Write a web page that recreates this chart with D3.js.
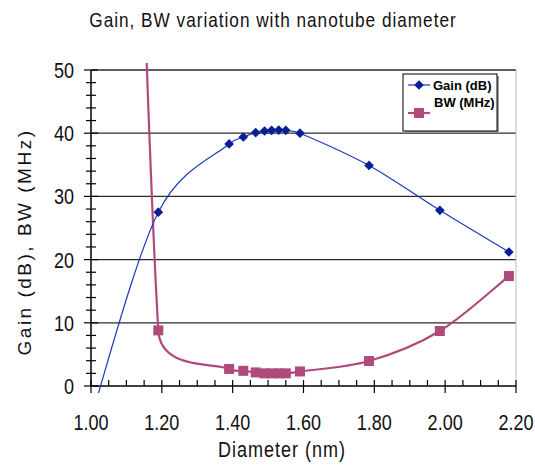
<!DOCTYPE html>
<html>
<head>
<meta charset="utf-8">
<script src="https://cdn.jsdelivr.net/npm/d3@7"></script>
<style>
  body { margin: 0; background: #fff; }
  text { font-family: "Liberation Sans", Arial, sans-serif; fill: #111; }
</style>
</head>
<body>
<script>
var width = 535;
var height = 465;

// nanotube diameter (nm); first point lies off the chart, only the curves reach it
var diameter = [1.00, 1.19, 1.39, 1.43, 1.465, 1.49, 1.51, 1.53, 1.55, 1.59, 1.785, 1.985, 2.18];
var gain = [-5, 27.5, 38.3, 39.4, 40.1, 40.35, 40.45, 40.5, 40.45, 40.0, 34.9, 27.8, 21.2];
var bw = [380, 8.8, 2.7, 2.4, 2.15, 2.0, 2.0, 2.0, 2.0, 2.3, 3.95, 8.7, 17.4];
var xTicks = [1.00, 1.20, 1.40, 1.60, 1.80, 2.00, 2.20];
var yTicks = [0, 10, 20, 30, 40, 50];

var pl = 91, pr = 516, pt = 70, pb = 386;

var x = d3.scaleLinear().domain([1.0, 2.2]).range([pl, pr]);
var y = d3.scaleLinear().domain([0, 50]).range([pb, pt]);

var svg = d3.select('body').append('svg')
  .attr('width', width)
  .attr('height', height);

// narrow text: squeeze a normal sans horizontally
var narrow = function(parent, tx, ty, str, size, anchor, spacing) {
  var t = parent.append('g')
    .attr('transform', 'translate(' + tx + ',' + ty + ') scale(0.82,1)')
    .append('text')
    .attr('text-anchor', anchor)
    .attr('font-size', size)
    .text(str);
  if (spacing) t.attr('letter-spacing', spacing);
  return t;
};

// spreadsheet-style smoothed line: bezier with (P[i+1]-P[i-1])/6 handles, capped at half the segment
var smooth = function(p) {
  var path = d3.path();
  var cap = function(vx, vy, max) {
    var len = Math.sqrt(vx * vx + vy * vy);
    if (len > max) { vx *= max / len; vy *= max / len; }
    return [vx, vy];
  };
  path.moveTo(p[0][0], p[0][1]);
  for (var i = 0; i < p.length - 1; i++) {
    var p0 = p[Math.max(i - 1, 0)], p1 = p[i], p2 = p[i + 1], p3 = p[Math.min(i + 2, p.length - 1)];
    var seg = Math.sqrt(Math.pow(p2[0] - p1[0], 2) + Math.pow(p2[1] - p1[1], 2));
    var a = cap((p2[0] - p0[0]) / 6, (p2[1] - p0[1]) / 6, seg / 2);
    var b = cap((p3[0] - p1[0]) / 6, (p3[1] - p1[1]) / 6, seg / 2);
    path.bezierCurveTo(p1[0] + a[0], p1[1] + a[1], p2[0] - b[0], p2[1] - b[1], p2[0], p2[1]);
  }
  return path.toString();
};

narrow(svg, 273, 27, 'Gain, BW variation with nanotube diameter', 21, 'middle', 1.2);

svg.append('defs').append('clipPath').attr('id', 'clip')
  .append('rect')
  .attr('x', pl - 6).attr('y', pt - 7)
  .attr('width', pr - pl + 6).attr('height', pb - pt + 14);

// gridlines
svg.append('g').selectAll('line')
  .data(yTicks.slice(1))
  .enter().append('line')
  .attr('x1', pl).attr('x2', pr)
  .attr('y1', function(d) { return y(d); })
  .attr('y2', function(d) { return y(d); })
  .attr('stroke', '#2a2a2a')
  .attr('stroke-width', 1.3);

svg.append('line')
  .attr('x1', pr).attr('x2', pr)
  .attr('y1', pt).attr('y2', pb)
  .attr('stroke', '#bbb');

// x axis
var xAxis = svg.append('g').attr('transform', 'translate(0,' + pb + ')');
xAxis.append('line').attr('x1', pl).attr('x2', pr).attr('stroke', '#000').attr('stroke-width', 1.5);
xAxis.selectAll('.minor')
  .data(d3.range(1.05, 2.2, 0.05).filter(function(d) { return Math.abs(d * 5 - Math.round(d * 5)) > 0.01; }))
  .enter().append('line')
  .attr('x1', function(d) { return x(d); }).attr('x2', function(d) { return x(d); })
  .attr('y1', -6).attr('y2', 0)
  .attr('stroke', '#000').attr('stroke-width', 1.2);
xAxis.selectAll('.major')
  .data(xTicks)
  .enter().append('line')
  .attr('x1', function(d) { return x(d); }).attr('x2', function(d) { return x(d); })
  .attr('y1', -6).attr('y2', 7)
  .attr('stroke', '#000').attr('stroke-width', 1.2);
xTicks.forEach(function(d) {
  narrow(xAxis, x(d), 44, d.toFixed(2), 22, 'middle');
});

narrow(svg, 282, 457, 'Diameter (nm)', 22, 'middle', 1.2);

// y axis
var yAxis = svg.append('g').attr('transform', 'translate(' + pl + ',0)');
yAxis.append('line').attr('y1', pt).attr('y2', pb).attr('stroke', '#000').attr('stroke-width', 1.5);
yAxis.selectAll('.minor')
  .data(d3.range(2, 50, 2).filter(function(d) { return d % 10 !== 0; }))
  .enter().append('line')
  .attr('x1', -5).attr('x2', 5)
  .attr('y1', function(d) { return y(d); }).attr('y2', function(d) { return y(d); })
  .attr('stroke', '#000').attr('stroke-width', 1.2);
yAxis.selectAll('.major')
  .data(yTicks)
  .enter().append('line')
  .attr('x1', -7).attr('x2', 7)
  .attr('y1', function(d) { return y(d); }).attr('y2', function(d) { return y(d); })
  .attr('stroke', '#000').attr('stroke-width', 1.2);
yTicks.forEach(function(d) {
  narrow(yAxis, -17, y(d) + 8, String(d), 22, 'end');
});

svg.append('text')
  .attr('transform', 'translate(31,242) rotate(-90)')
  .attr('text-anchor', 'middle')
  .attr('font-size', 19)
  .attr('letter-spacing', 2.5)
  .text('Gain (dB), BW (MHz)');

// series
var gainPts = diameter.map(function(d, i) { return [x(d), y(gain[i])]; });
var bwPts = diameter.map(function(d, i) { return [x(d), y(bw[i])]; });
var shown = d3.range(diameter.length).filter(function(i) { return gain[i] >= 0 && bw[i] <= 50; });

var plot = svg.append('g').attr('clip-path', 'url(#clip)');

plot.append('path')
  .attr('d', smooth(bwPts))
  .attr('fill', 'none')
  .attr('stroke', '#b04a7c')
  .attr('stroke-width', 2.2);

plot.append('path')
  .attr('d', smooth(gainPts))
  .attr('fill', 'none')
  .attr('stroke', '#1a3bb8')
  .attr('stroke-width', 1.2);

var diamond = d3.symbol().type(d3.symbolDiamond2).size(60);

plot.selectAll('.bwpt')
  .data(shown)
  .enter().append('rect')
  .attr('x', function(i) { return x(diameter[i]) - 5; })
  .attr('y', function(i) { return y(bw[i]) - 5; })
  .attr('width', 10).attr('height', 10)
  .attr('fill', '#b04a7c');

plot.selectAll('.gpt')
  .data(shown)
  .enter().append('path')
  .attr('transform', function(i) { return 'translate(' + x(diameter[i]) + ',' + y(gain[i]) + ')'; })
  .attr('d', diamond)
  .attr('fill', '#0a1f96');

// legend
var lg = svg.append('g');
lg.append('rect').attr('x', 405).attr('y', 76).attr('width', 94).attr('height', 57).attr('fill', '#999');
lg.append('rect').attr('x', 403).attr('y', 74).attr('width', 94).attr('height', 57)
  .attr('fill', '#fff').attr('stroke', '#000').attr('stroke-width', 1);
lg.append('line').attr('x1', 408).attr('x2', 430).attr('y1', 85).attr('y2', 85)
  .attr('stroke', '#1a3bb8').attr('stroke-width', 1.2);
lg.append('path').attr('transform', 'translate(419,85)').attr('d', diamond).attr('fill', '#0a1f96');
lg.append('text').attr('x', 433).attr('y', 90)
  .attr('font-size', 13).attr('font-weight', 'bold').style('fill', '#000')
  .text('Gain (dB)');
lg.append('text').attr('x', 434).attr('y', 107)
  .attr('font-size', 13).attr('font-weight', 'bold').style('fill', '#000')
  .text('BW (MHz)');
lg.append('line').attr('x1', 408).attr('x2', 430).attr('y1', 113).attr('y2', 113)
  .attr('stroke', '#b04a7c').attr('stroke-width', 2.2);
lg.append('rect').attr('x', 414).attr('y', 108).attr('width', 10).attr('height', 10).attr('fill', '#b04a7c');
</script>
</body>
</html>
